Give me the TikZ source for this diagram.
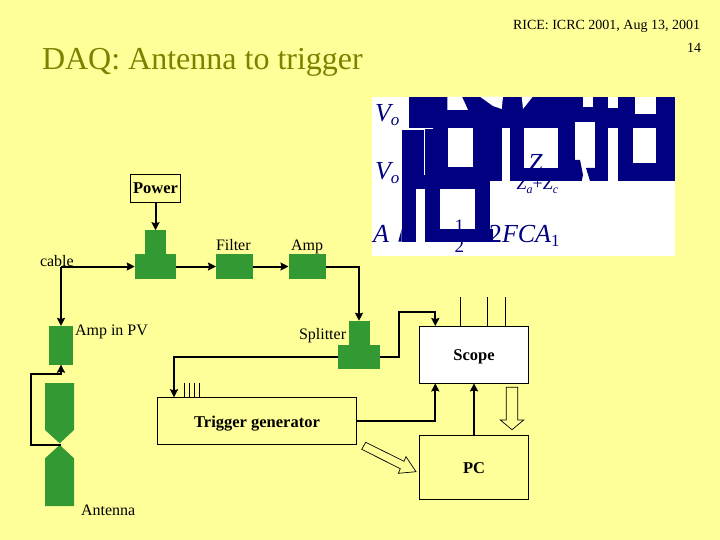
\documentclass[tikz,border=0pt]{standalone}
\usepackage{fontspec}
\setmainfont{Liberation Serif}
\usetikzlibrary{arrows.meta,positioning,calc}
\definecolor{slide}{HTML}{FFFF99}
\definecolor{titleol}{HTML}{808000}
\definecolor{leaf}{HTML}{339933}
\definecolor{glyph}{HTML}{000080}
\newcommand{\fsize}[1]{\fontsize{#1}{#1}\selectfont}
\newcommand{\lowidx}[2]{\raisebox{-4pt}{\fsize{#1}#2}}

\begin{document}
\begin{tikzpicture}[
		x=1pt, y=-1pt,
		font=\fsize{16},
		every node/.style={align=center, inner sep=0pt, outer sep=0pt},
		block/.style={rectangle, fill=leaf, minimum width=37pt, minimum height=25pt},
		stubtop/.style={rectangle, fill=leaf, minimum width=21pt, minimum height=24pt},
		stublow/.style={rectangle, fill=leaf, minimum width=41.5pt, minimum height=24.5pt},
		ctrl/.style={rectangle, draw=black, line width=0.8pt, font=\fsize{16.5}\bfseries, text depth=0pt},
		lab/.style={anchor=base west},
		eqbig/.style={anchor=base west, text=glyph, font=\fsize{26}\itshape},
		arr/.style={-{Stealth[length=8pt,width=8pt,inset=1pt]}, line width=2pt, black},
		probe/.style={line width=0.7pt, black},
		hollow/.style={draw=black, line width=0.7pt, fill=slide},
		]
	\useasboundingbox (0,0) rectangle (720,540);
	\fill[slide] (0,0) rectangle (720,540);

	% Cabeceras
	\node[lab, font=\fsize{14}] (header) at (513,29.3) {RICE: ICRC 2001, Aug 13, 2001};
	\node[lab, font=\fsize{14}] (pageno) at (687,52.3) {14};
	\node[lab, font=\fsize{32}, text=titleol] (title) at (42,69.3) {DAQ: Antenna to trigger};

	% Panel de ecuaciones, texto bajo los bloques
	\fill[white] (372.3,96.7) rectangle (675,255.7);
	\node[eqbig] (vone) at (375,121.7) {V\lowidx{17}{o}};
	\node[eqbig] (vtwo) at (375,180) {V\lowidx{17}{o}};
	\node[eqbig] (aeq)  at (373,242.7) {A};
	\node[eqbig] (fca)  at (489,242.7) {{\upshape 2}FCA\lowidx{17}{\upshape 1}};
	\node[eqbig] (znum) at (528,172) {Z};
	\node[eqbig, font=\fsize{18}\itshape] (zden) at (516.7,190) {Z\lowidx{12}{a}{\upshape +}Z\lowidx{12}{c}};
	\node[eqbig, font=\fsize{19}] (onum) at (454.5,233) {1};
	\node[eqbig, font=\fsize{19}] (oden) at (454.5,252.7) {2};

	% Bloques de los radicales
	\foreach \xa/\ya/\xb/\yb in {409.3/96.7/675/128, 401.7/130/425/189.3, 425/128/448/181,
			473.3/128/501.7/181, 425/167.5/501.7/181, 425/181/490/189.3,
			401.7/189/415.7/241.7, 425/189/440/241.7, 475/189/490/241.7,
			425/229.3/493.3/241.7, 510/128/524/181, 510/168/575/181,
			558.3/128/575/181, 595/128/608/181, 618.3/128/633/181,
			618.3/163.3/675/181, 656/128/675/181}
		\fill[glyph] (\xa,\ya) rectangle (\xb,\yb);
	\fill[glyph] (575,160) -- (580,160) -- (583,175) -- (581.7,181) -- (575,181) -- cycle;
	\fill[glyph] (586,168) -- (595,168) -- (595,181) -- (590,181) -- cycle;
	\fill[glyph] (398.3,241.7) -- (401.7,229) -- (401.7,241.7) -- cycle;
	\fill[white] (447.3,96.7) -- (462,96.7) -- (468,110) -- (447.3,110) -- cycle;
	\fill[white] (480,96.7) -- (503,96.7) -- (501.7,109) -- (493,106) -- cycle;
	\fill[white] (521.7,96.7) -- (532.7,96.7) -- (523,109) -- cycle;
	\fill[white] (583,96.7) rectangle (593,107);
	\fill[white] (608,96.7) rectangle (618,108);
	\fill[white] (635,96.7) rectangle (656,114);
	\fill[white] (575,121.7) rectangle (595,128);
	\draw[white, line width=1pt] (433,128.5) -- (424.5,128.5) -- (424.5,175);

	% Cadena de la antena
	\node[stublow] (teelow) at (155.5,266.5) {};
	\node[stubtop, above=0pt of teelow] (teetop) {};
	\node[ctrl, minimum width=50.4pt, minimum height=28.4pt] (power) at (155.5,188.5) {Power};
	\node[block] (filter) at (234.5,266.5) {};
	\node[block, right=35.5pt of filter] (amp) {};
	\node[rectangle, fill=leaf, minimum width=24pt, minimum height=38.7pt] (amppv) at (61,345.3) {};
	\node[stublow] (spllow) at (359,357) {};
	\node[stubtop, above=0pt of spllow] (spltop) {};

	% Etiquetas
	\node[lab] (filterlab) at (216,250) {Filter};
	\node[lab] (amplab) at (291,250) {Amp};
	\node[lab] (cablelab) at (40,266.7) {cable};
	\node[lab] (amppvlab) at (75,335) {Amp in PV};
	\node[lab] (splitlab) at (299,339.3) {Splitter};
	\node[lab] (antlab) at (81,515) {Antenna};

	% Antena
	\fill[leaf] (45,383) -- (74,383) -- (74,430) -- (59.7,443.3) -- (45,430) -- cycle;
	\fill[leaf] (45,506) -- (74,506) -- (74,458.3) -- (59.7,445) -- (45,458.3) -- cycle;
	\coordinate (feed) at (60.7,445);
	\coordinate (cablejoin) at (61,266.5);

	% Instrumentos
	\node[ctrl, fill=white, minimum width=109.4pt, minimum height=57.3pt] (scope) at (474,354.7) {Scope};
	\node[ctrl, minimum width=109.4pt, minimum height=64pt, below=52pt of scope] (pc) {\raisebox{-1pt}{PC}};
	\node[ctrl, minimum width=199.4pt, minimum height=47pt] (trigger) at (257,420.8) {\raisebox{-1pt}{Trigger generator}};
	\coordinate (scopein) at ($(scope.north west)+(16,0)$);
	\coordinate (scopeback) at ($(scope.south west)+(16,0)$);
	\coordinate (trigin) at ($(trigger.north west)+(16.7,0)$);

	% Conexiones
	\draw[arr] (power) -- (teetop);
	\draw[arr] (cablejoin) -- (teelow.west);
	\draw[arr] (cablejoin) -- (amppv.north);
	\draw[arr] (teelow) -- (filter);
	\draw[arr] (filter) -- (amp);
	\draw[arr] (amp.east) -| (spltop.north);
	\draw[arr] (feed) -| (31,373.7) -| (amppv.south);
	\draw[arr] (spllow.east) -| (399,312) -| (scopein);
	\draw[arr] (spllow.west) -| (trigin);
	\draw[arr] (trigger.east) -| (scopeback);
	\draw[arr] (pc) -- (scope);

	% Sondas
	\foreach \xoff in {41,68,86}
		\draw[probe] ($(scope.north west)+(\xoff,0)$) -- ++(0,-29.3);
	\foreach \xoff in {27,32,36.7,41.7}
		\draw[probe] ($(trigger.north west)+(\xoff,0)$) -- ++(0,-14);

	% Flechas huecas
	\draw[hollow] (506.3,387.3) -- (517.7,387.3) -- (517.7,420) -- (523.7,420) -- (512,429.7)
		-- (500.3,420) -- (506.3,420) -- cycle;
	\draw[hollow] (365.7,442.3) -- (404,461.3) -- (406,456.7) -- (416,471.7) -- (398.3,473.3)
		-- (400.3,468.7) -- (361.7,449.3) -- cycle;
\end{tikzpicture}
\end{document}
